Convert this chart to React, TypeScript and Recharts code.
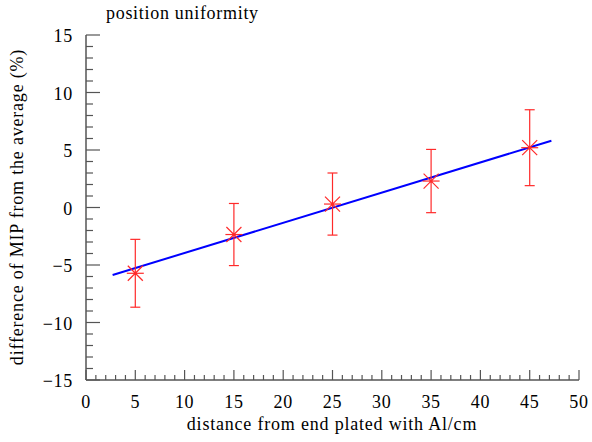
import React from 'react';
import { ComposedChart, Line, Scatter, XAxis, YAxis, ErrorBar } from 'recharts';

const distances = [5, 15, 25, 35, 45];
const mipDiff = [-5.72, -2.35, 0.3, 2.3, 5.2];
const mipErr = [2.95, 2.7, 2.7, 2.75, 3.3];
const fitX = [2.7, 47.2];
const fitY = [-5.87, 5.81];
const xMajorTicks = [0, 5, 10, 15, 20, 25, 30, 35, 40, 45, 50];
const yMajorTicks = [-15, -10, -5, 0, 5, 10, 15];
const xAllTicks = Array.from({ length: 51 }, (_, i) => i);
const yAllTicks = Array.from({ length: 31 }, (_, i) => i - 15);

const title = 'position uniformity';
const xLabel = 'distance from end plated with Al/cm';
const yLabel = 'difference of MIP from the average (%)';

const points = distances.map((x, i) => ({ x, y: mipDiff[i], err: mipErr[i] }));
const fitLine = fitX.map((x, i) => ({ x, y: fitY[i] }));

const W = 592;
const H = 442;
const FONT = '"Liberation Serif", "Times New Roman", serif';
const AXIS = '#555';
const RED = '#ff2a2a';

const fmt = (v: number) => (v < 0 ? '\u2212' + Math.abs(v) : String(v));
const textStyle = { fontFamily: FONT, fontSize: 18 };

const BottomTick = (props: any) => {
  const { x, y, payload } = props;
  const major = xMajorTicks.includes(payload.value);
  return (
    <g>
      <line x1={x} y1={y} x2={x} y2={y - (major ? 10 : 5)} stroke={AXIS} strokeWidth={1.2} />
      {major && (
        <text x={x} y={y + 28} textAnchor="middle" style={textStyle} letterSpacing={0.7} fill="#000">
          {fmt(payload.value)}
        </text>
      )}
    </g>
  );
};

const TopTick = (props: any) => {
  const { x, y, payload } = props;
  const major = xMajorTicks.includes(payload.value);
  return <line x1={x} y1={y} x2={x} y2={y + (major ? 8 : 4)} stroke={AXIS} strokeWidth={1.2} />;
};

const LeftTick = (props: any) => {
  const { x, y, payload } = props;
  const major = yMajorTicks.includes(payload.value);
  return (
    <g>
      <line x1={x} y1={y} x2={x + (major ? 14 : 7)} y2={y} stroke={AXIS} strokeWidth={1.2} />
      {major && (
        <text x={x - 13} y={y + 7} textAnchor="end" style={textStyle} letterSpacing={0.7} fill="#000">
          {fmt(payload.value)}
        </text>
      )}
    </g>
  );
};

const RightTick = (props: any) => {
  const { x, y, payload } = props;
  const major = yMajorTicks.includes(payload.value);
  return <line x1={x} y1={y} x2={x - (major ? 14 : 7)} y2={y} stroke={AXIS} strokeWidth={1.2} />;
};

const StarShape = (props: any) => {
  const { cx, cy } = props;
  if (cx == null || cy == null) return null;
  const d = 8.5;
  const g = 7.5;
  return (
    <g stroke={RED} strokeWidth={1.2}>
      <line x1={cx - d} y1={cy} x2={cx + d} y2={cy} />
      <line x1={cx - g} y1={cy - g} x2={cx + g} y2={cy + g} />
      <line x1={cx - g} y1={cy + g} x2={cx + g} y2={cy - g} />
      <circle cx={cx} cy={cy} r={1.6} fill={RED} stroke="none" />
    </g>
  );
};

export default function App() {
  return (
    <div style={{ position: 'absolute', left: 0, top: 0, width: W, height: H, background: '#fff' }}>
      <ComposedChart width={W} height={H} margin={{ top: 35, right: 13, bottom: 0, left: 0 }}>
        <XAxis
          xAxisId="bottom"
          type="number"
          dataKey="x"
          domain={[0, 50]}
          ticks={xAllTicks}
          interval={0}
          allowDataOverflow
          orientation="bottom"
          height={62}
          tickSize={0}
          tickMargin={0}
          tickLine={false}
          tick={BottomTick}
          axisLine={{ stroke: AXIS, strokeWidth: 1.5 }}
        />
        <XAxis
          xAxisId="top"
          type="number"
          dataKey="x"
          domain={[0, 50]}
          ticks={xAllTicks}
          interval={0}
          allowDataOverflow
          orientation="top"
          height={0}
          tickSize={0}
          tickMargin={0}
          tickLine={false}
          tick={TopTick}
          axisLine={{ stroke: AXIS, strokeWidth: 1.5 }}
        />
        <YAxis
          yAxisId="left"
          type="number"
          dataKey="y"
          domain={[-15, 15]}
          ticks={yAllTicks}
          interval={0}
          allowDataOverflow
          orientation="left"
          width={86}
          tickSize={0}
          tickMargin={0}
          tickLine={false}
          tick={LeftTick}
          axisLine={{ stroke: AXIS, strokeWidth: 1.5 }}
        />
        <YAxis
          yAxisId="right"
          type="number"
          dataKey="y"
          domain={[-15, 15]}
          ticks={yAllTicks}
          interval={0}
          allowDataOverflow
          orientation="right"
          width={0}
          tickSize={0}
          tickMargin={0}
          tickLine={false}
          tick={RightTick}
          axisLine={{ stroke: AXIS, strokeWidth: 1.5 }}
        />
        <Line
          xAxisId="bottom"
          yAxisId="left"
          data={fitLine}
          dataKey="y"
          type="linear"
          stroke="#0000ff"
          strokeWidth={2}
          dot={false}
          activeDot={false}
          isAnimationActive={false}
        />
        <Scatter
          xAxisId="bottom"
          yAxisId="left"
          data={points}
          dataKey="y"
          shape={StarShape}
          isAnimationActive={false}
        >
          <ErrorBar dataKey="err" direction="y" width={5} stroke={RED} strokeWidth={1.2} isAnimationActive={false} />
        </Scatter>
      </ComposedChart>
      <svg width={W} height={H} style={{ position: 'absolute', left: 0, top: 0, pointerEvents: 'none' }}>
        <text x={106} y={19} style={textStyle} letterSpacing={0.7} fill="#000">
          {title}
        </text>
        <text x={332} y={430} textAnchor="middle" style={textStyle} letterSpacing={0.8} fill="#000">
          {xLabel}
        </text>
        <text
          x={23}
          y={207}
          textAnchor="middle"
          transform="rotate(-90 23 207)"
          style={textStyle}
          letterSpacing={0.8}
          fill="#000"
        >
          {yLabel}
        </text>
      </svg>
    </div>
  );
}
